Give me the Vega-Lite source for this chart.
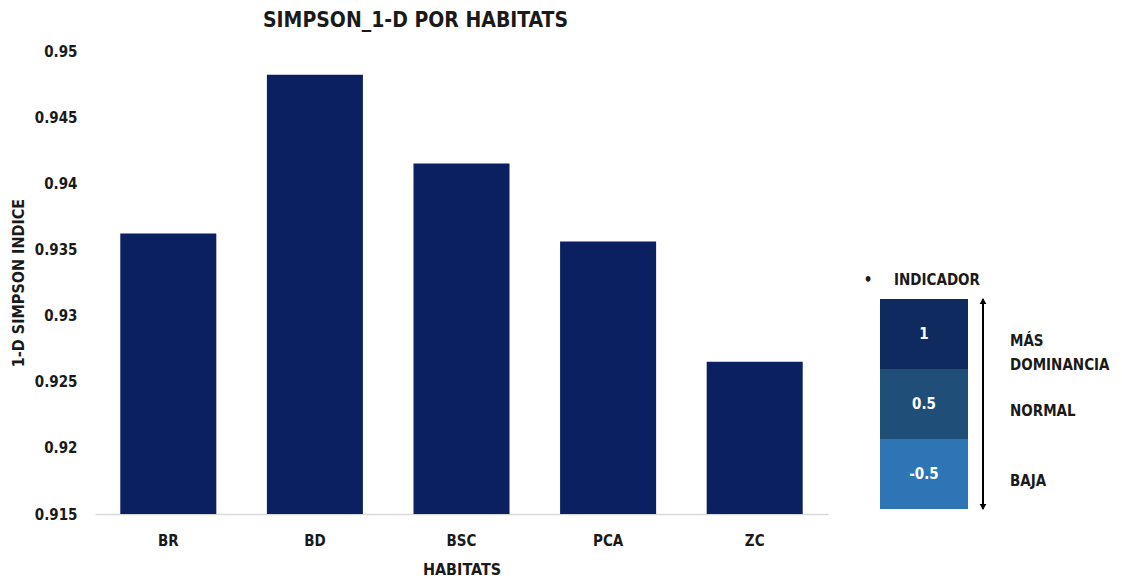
{
  "$schema": "https://vega.github.io/schema/vega-lite/v6.json",
  "background": "white",
  "padding": {"left": 10, "top": 10, "right": 0, "bottom": 0},
  "config": {
    "font": "Liberation Sans Narrow, DejaVu Sans Condensed, sans-serif",
    "view": {"stroke": null}
  },
  "spacing": 35,
  "hconcat": [
    {
      "width": 733,
      "height": 463,
      "title": {"text": "SIMPSON_1-D POR HABITATS", "fontSize": 21, "fontWeight": "bold", "color": "#1a1a1a", "anchor": "middle", "dx": -46, "offset": 13},
      "data": {"values": [
        {"habitat": "BR", "simpson": 0.9362},
        {"habitat": "BD", "simpson": 0.9482},
        {"habitat": "BSC", "simpson": 0.9415},
        {"habitat": "PCA", "simpson": 0.9356},
        {"habitat": "ZC", "simpson": 0.9265}
      ]},
      "mark": {"type": "bar", "color": "#0b2060"},
      "encoding": {
        "x": {
          "field": "habitat", "type": "nominal", "sort": null,
          "scale": {"paddingInner": 0.345, "paddingOuter": 0.1725},
          "axis": {"title": "HABITATS", "labelAngle": 0, "labelFontSize": 15, "labelFontWeight": "bold", "labelColor": "#1a1a1a", "titleFontSize": 16, "titleFontWeight": "bold", "titleColor": "#1a1a1a", "ticks": false, "domainColor": "#d9d9d9", "domainWidth": 1.5, "labelPadding": 19, "titlePadding": 13}
        },
        "y": {
          "field": "simpson", "type": "quantitative",
          "scale": {"domain": [0.915, 0.95], "zero": false, "nice": false},
          "axis": {"title": "1-D SIMPSON INDICE", "values": [0.915, 0.92, 0.925, 0.93, 0.935, 0.94, 0.945, 0.95], "format": "~g", "grid": false, "domain": false, "ticks": false, "labelFontSize": 15, "labelFontWeight": "bold", "labelColor": "#1a1a1a", "labelPadding": 18, "titleFontSize": 16, "titleFontWeight": "bold", "titleColor": "#1a1a1a", "titlePadding": 8}
        },
        "y2": {"datum": 0.915}
      }
    },
    {
      "width": 218,
      "height": 463,
      "layer": [
        {
          "data": {"values": [
            {"valor": "1", "nivel": "MÁS DOMINANCIA"},
            {"valor": "0.5", "nivel": "NORMAL"},
            {"valor": "-0.5", "nivel": "BAJA"}
          ]},
          "mark": {"type": "rect"},
          "encoding": {
            "x": {"datum": "valor", "type": "nominal", "scale": {"domain": ["valor", "nivel"], "paddingInner": 0.323, "paddingOuter": 0}, "axis": null},
            "y": {"field": "valor", "type": "nominal", "sort": null, "scale": {"domain": ["1", "0.5", "-0.5"], "paddingInner": 0, "paddingOuter": 0, "range": [248, 458]}, "axis": null},
            "color": {"field": "valor", "type": "nominal", "scale": {"domain": ["1", "0.5", "-0.5"], "range": ["#0e2a5e", "#1f4e79", "#2e75b6"]}, "legend": null}
          }
        },
        {
          "data": {"values": [
            {"valor": "1", "nivel": "MÁS DOMINANCIA"},
            {"valor": "0.5", "nivel": "NORMAL"},
            {"valor": "-0.5", "nivel": "BAJA"}
          ]},
          "mark": {"type": "text", "color": "white", "fontSize": 15, "fontWeight": "bold"},
          "encoding": {
            "x": {"datum": "valor", "type": "nominal"},
            "y": {"field": "valor", "type": "nominal", "sort": null},
            "text": {"field": "valor"}
          }
        },
        {
          "data": {"values": [
            {"valor": "1", "nivel": "MÁS DOMINANCIA"},
            {"valor": "0.5", "nivel": "NORMAL"},
            {"valor": "-0.5", "nivel": "BAJA"}
          ]},
          "mark": {"type": "text", "color": "#1a1a1a", "fontSize": 15, "fontWeight": "bold", "align": "left", "lineBreak": " ", "lineHeight": 24, "yOffset": 7},
          "encoding": {
            "x": {"datum": "nivel", "type": "nominal", "bandPosition": 0},
            "y": {"field": "valor", "type": "nominal", "sort": null},
            "text": {"field": "nivel"}
          }
        },
        {
          "data": {"values": [{"encabezado": "INDICADOR"}]},
          "mark": {"type": "text", "color": "#1a1a1a", "fontSize": 15, "fontWeight": "bold", "xOffset": 13, "yOffset": -19},
          "encoding": {
            "x": {"datum": "valor", "type": "nominal"},
            "y": {"datum": "1", "type": "nominal", "bandPosition": 0},
            "text": {"field": "encabezado"}
          }
        },
        {
          "data": {"values": [{"encabezado": "INDICADOR"}]},
          "mark": {"type": "text", "color": "#1a1a1a", "fontSize": 15, "fontWeight": "bold", "xOffset": -12, "yOffset": -19, "text": "•"},
          "encoding": {
            "x": {"datum": "valor", "type": "nominal", "bandPosition": 0},
            "y": {"datum": "1", "type": "nominal", "bandPosition": 0}
          }
        },
        {
          "data": {"values": [{"encabezado": "INDICADOR"}]},
          "mark": {"type": "rule", "color": "black", "strokeWidth": 2, "xOffset": 15},
          "encoding": {
            "x": {"datum": "valor", "type": "nominal", "bandPosition": 1},
            "y": {"datum": "1", "type": "nominal", "bandPosition": 0},
            "y2": {"datum": "-0.5", "bandPosition": 1}
          }
        },
        {
          "data": {"values": [{"encabezado": "INDICADOR"}]},
          "mark": {"type": "point", "shape": "triangle-up", "filled": true, "color": "black", "size": 45, "opacity": 1, "xOffset": 15, "yOffset": 2},
          "encoding": {
            "x": {"datum": "valor", "type": "nominal", "bandPosition": 1},
            "y": {"datum": "1", "type": "nominal", "bandPosition": 0}
          }
        },
        {
          "data": {"values": [{"encabezado": "INDICADOR"}]},
          "mark": {"type": "point", "shape": "triangle-down", "filled": true, "color": "black", "size": 45, "opacity": 1, "xOffset": 15, "yOffset": -2},
          "encoding": {
            "x": {"datum": "valor", "type": "nominal", "bandPosition": 1},
            "y": {"datum": "-0.5", "type": "nominal", "bandPosition": 1}
          }
        }
      ]
    }
  ]
}
